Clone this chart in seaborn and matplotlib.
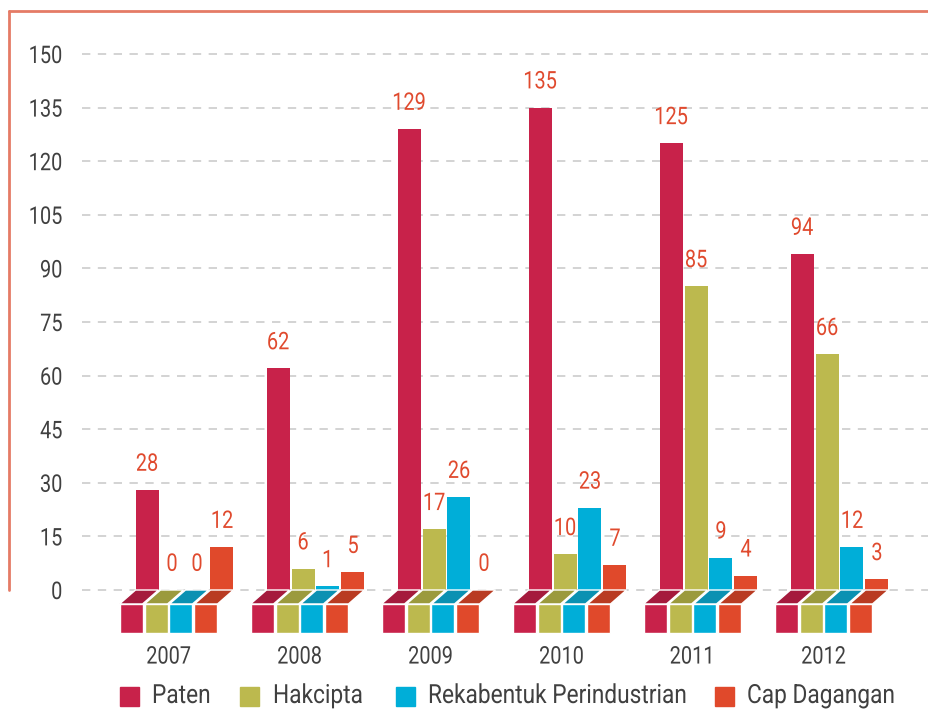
import numpy as np
import pandas as pd
import matplotlib
matplotlib.use("Agg")
import matplotlib.pyplot as plt
from matplotlib.lines import Line2D
from matplotlib.patches import Rectangle
from matplotlib.patheffects import AbstractPathEffect
from matplotlib.path import Path
from matplotlib.transforms import Affine2D
import seaborn as sns

years = ["2007", "2008", "2009", "2010", "2011", "2012"]
series = ["Paten", "Hakcipta", "Rekabentuk Perindustrian", "Cap Dagangan"]
paten = [28, 62, 129, 135, 125, 94]
hakcipta = [0, 6, 17, 10, 85, 66]
rekabentuk = [0, 1, 26, 23, 9, 12]
cap = [12, 5, 0, 7, 4, 3]
yticks = [0, 15, 30, 45, 60, 75, 90, 105, 120, 135, 150]

colors = ["#c8224a", "#bcb94e", "#00aed8", "#e0492b"]
dark = ["#a51a3d", "#9b9a3d", "#0b91b2", "#b93b22"]
label_color = "#e04a2e"
text_color = "#404040"
frame_color = "#e57b66"


class HScale(AbstractPathEffect):
    """Horizontally condense text glyphs (to mimic a condensed typeface)."""

    def __init__(self, sx=0.8, ha="center"):
        super().__init__()
        self.sx = sx
        self.ha = ha

    def draw_path(self, renderer, gc, tpath, affine, rgbFace=None):
        v = tpath.vertices
        if tpath.codes is not None:
            v = v[tpath.codes != Path.CLOSEPOLY]
        if len(v):
            pts = affine.transform(v)
            x0, x1 = pts[:, 0].min(), pts[:, 0].max()
        else:
            x0 = x1 = affine.get_matrix()[0, 2]
        if self.ha == "center":
            a = (x0 + x1) / 2
        elif self.ha == "right":
            a = x1
        else:
            a = affine.get_matrix()[0, 2]
        t = affine + Affine2D().translate(-a, 0).scale(self.sx, 1).translate(a, 0)
        renderer.draw_path(gc, tpath, t, rgbFace)


SX = 0.82
SX_LEG = 0.86

sns.set_theme(style="white")
plt.rcParams["font.family"] = ["Roboto", "DejaVu Sans"]

W, H = 929, 709
fig = plt.figure(figsize=(W / 100, H / 100), dpi=100)
K = (590 - 54) / 150.0          # px per unit
GP = 131.0                       # px per group
ax = fig.add_axes([82 / W, (H - 640) / H, (W - 82) / W, (640 - 11) / H])
ax.set_ylim(-(640 - 590) / K, (590 - 11) / K)

dx = 16 / GP                     # depth offset in x (data units)
dy = 14 / K                      # depth offset in y (data units)
block_bottom = (633 - 590) / K

vals = [paten, hakcipta, rekabentuk, cap]
rows = []
for s, v in zip(series, vals):
    for i, y in enumerate(years):
        rows.append({"xpos": i + dx, "series": s, "value": v[i], "year": y})
df = pd.DataFrame(rows)

group_width = 0.763
gap = 0.08
sns.barplot(data=df, x="xpos", y="value", hue="series", hue_order=series,
            palette=colors, native_scale=True, width=group_width, gap=gap,
            dodge=True, legend=False, saturation=1, errorbar=None,
            linewidth=0, ax=ax, zorder=3)

pitch = group_width / 4
bw = pitch * (1 - gap)
for j, (s, v) in enumerate(zip(series, vals)):
    for i in range(len(years)):
        c = i + (j - 1.5) * pitch
        # top face (parallelogram)
        ax.fill([c - bw / 2, c + bw / 2, c + bw / 2 + dx, c - bw / 2 + dx],
                [-dy, -dy, 0, 0], color=dark[j], edgecolor="white",
                linewidth=1.0, zorder=4)
        # front block
        ax.bar(c, -(block_bottom - dy), bottom=-dy, width=bw, color=colors[j],
               edgecolor="white", linewidth=1.0, zorder=5)
        # value label
        ax.annotate(str(v[i]), (c + dx, v[i]), xytext=(0, 18.5),
                    textcoords="offset points", ha="center", va="center",
                    fontsize=17.5, color=label_color, zorder=6,
                    path_effects=[HScale(SX, "center")])

ax.set_xlim((82 - 168.5) / GP, (929 - 168.5) / GP)
ax.set_xticks(range(len(years)))
ax.set_xticklabels(years, fontsize=17.5, color=text_color)
ax.set_yticks(yticks)
ax.set_yticklabels([str(t) for t in yticks], fontsize=17.5, color=text_color)
ax.tick_params(axis="both", length=0)
ax.tick_params(axis="y", pad=14)
ax.tick_params(axis="x", pad=4)
ax.set_xlabel("")
ax.set_ylabel("")
for lab in ax.get_xticklabels():
    lab.set_path_effects([HScale(SX, "center")])
for lab in ax.get_yticklabels():
    lab.set_path_effects([HScale(SX, "right")])
for sp in ax.spines.values():
    sp.set_visible(False)
for t in yticks:
    ax.axhline(t, color="#cccccc", linewidth=1.2, linestyle=(0, (5, 4.5)), zorder=1)

# frame
fig.add_artist(Line2D([9 / W, 9 / W], [1 - 590 / H, 1 - 11 / H],
                      color=frame_color, linewidth=2, transform=fig.transFigure))
fig.add_artist(Line2D([9 / W, 1], [1 - 11 / H, 1 - 11 / H],
                      color=frame_color, linewidth=2, transform=fig.transFigure))

# legend
sq_x = [120, 240, 396, 715]
tx_x = [152, 273, 428, 747]
ly = 696
for j, s in enumerate(series):
    fig.add_artist(Rectangle((sq_x[j] / W, 1 - (ly + 9.5) / H), 19 / W, 19 / H,
                             color=colors[j], transform=fig.transFigure))
    fig.text(tx_x[j] / W, 1 - ly / H, s, fontsize=19, color=text_color,
             ha="left", va="center", path_effects=[HScale(SX_LEG, "left")])

fig.savefig("out.png", dpi=100)
